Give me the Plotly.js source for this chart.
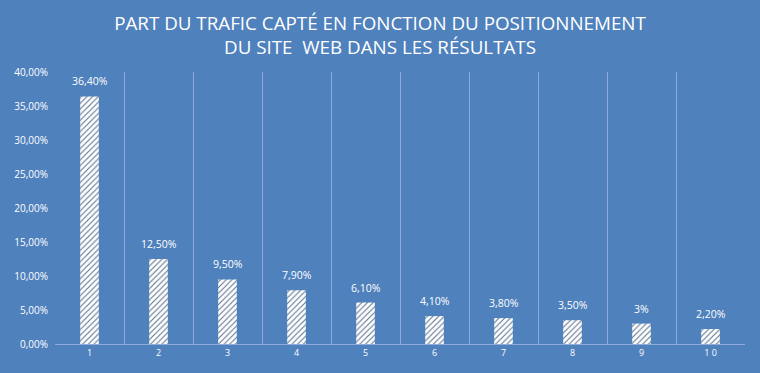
<!DOCTYPE html>
<html><head><meta charset="utf-8">
<script src="https://cdn.plot.ly/plotly-3.0.1.min.js"></script>
<style>html,body{margin:0;padding:0;background:#4F81BD;}</style>
</head><body>
<div id="chart" style="width:760px;height:373px;"></div>
<script>
const positions = [1,2,3,4,5,6,7,8,9,10];
const tickLabels = ['1','2','3','4','5','6','7','8','9','1 0'];
const shares = [0.364,0.125,0.095,0.079,0.061,0.041,0.038,0.035,0.03,0.022];
const shareLabels = ['36,40%','12,50%','9,50%','7,90%','6,10%','4,10%','3,80%','3,50%','3%','2,20%'];
const boundaries = [0.5,1.5,2.5,3.5,4.5,5.5,6.5,7.5,8.5,9.5,10.5];

const bg = '#4F81BD';
const gridCol = '#8FAADC';
const fnt = 'Open Sans, Liberation Sans, sans-serif';

const bars = {
  type: 'bar', x: positions, y: shares,
  width: 0.27,
  marker: {color: '#FFFFFF', line: {width: 0},
    pattern: {shape: '/', fgcolor: '#5A6F8C', bgcolor: '#FFFFFF', size: 4, solidity: 0.25}},
  hoverinfo: 'skip', showlegend: false
};
const gridTrace = {type:'scatter', x: boundaries, y: boundaries.map(()=>0), xaxis:'x2', mode:'none', showlegend:false, hoverinfo:'skip'};

const annotations = positions.map((p,i)=>({
  x: p, y: shares[i], xref:'x', yref:'y', text: shareLabels[i], showarrow:false,
  yanchor:'bottom', yshift: 6, font:{family:fnt, size:10.5, color:'#FFFFFF'}
}));

const layout = {
  width: 760, height: 373,
  paper_bgcolor: bg, plot_bgcolor: bg,
  margin: {l:55, r:15, t:72, b:29},
  separators: ',.',
  title: {text: 'PART DU TRAFIC CAPTÉ EN FONCTION DU POSITIONNEMENT<br>DU SITE  WEB DANS LES RÉSULTATS',
    font: {family: fnt, size: 18.8, color: '#FFFFFF'}, x: 0.5, xanchor:'center',
    yref:'container', y: 0.92, yanchor:'middle'},
  xaxis: {range:[0.5,10.5], tickvals: positions, ticktext: tickLabels, showgrid:false, zeroline:false,
    showline:true, linecolor: gridCol, linewidth:1, ticks:'',
    tickfont:{family:fnt, size:9, color:'#FFFFFF'}, fixedrange:true},
  xaxis2: {range:[0.5,10.5], overlaying:'x', tickvals: boundaries, showgrid:true, gridcolor: gridCol, gridwidth:1,
    showticklabels:false, zeroline:false, ticks:'', side:'bottom'},
  yaxis: {range:[0,0.4], dtick:0.05, tickformat:'.2%', showgrid:false, zeroline:false, showline:false,
    ticks:'', tickfont:{family:fnt, size:10, color:'#FFFFFF'}, ticklabelstandoff: 6},
  annotations: annotations
};
Plotly.newPlot('chart', [gridTrace, bars], layout, {displayModeBar:false, staticPlot:true});
</script>
</body></html>
